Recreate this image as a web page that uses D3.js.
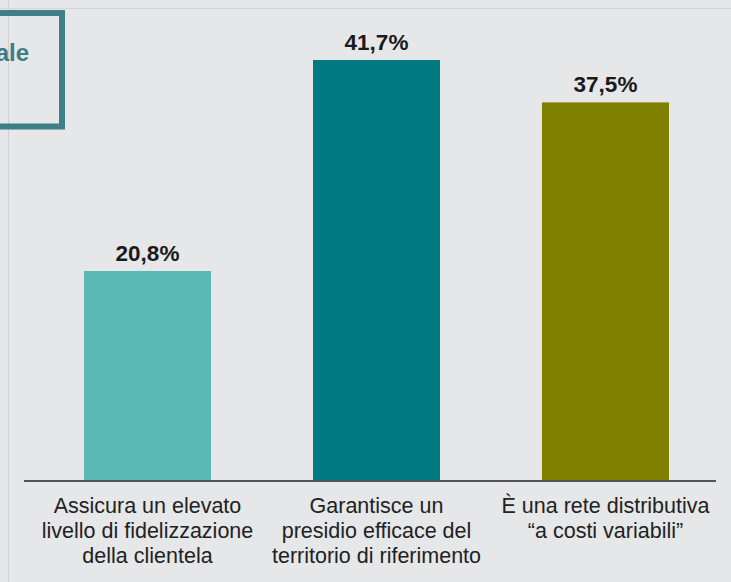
<!DOCTYPE html>
<html lang="it">
<head>
<meta charset="UTF-8">
<title>Rete distributiva</title>
<script src="https://d3js.org/d3.v7.min.js"></script>
<style>
  html, body { margin: 0; padding: 0; background: #e6e7e9; }
  svg { display: block; }
  text { font-family: "Liberation Sans", Arial, sans-serif; }
</style>
</head>
<body>
<div id="chart"></div>
<script>
// dati
const categories = ['fidelizzazione', 'presidio', 'costi'];
const values = [20.8, 41.7, 37.5];
const labelLines = [
  ['Assicura un elevato', 'livello di fidelizzazione', 'della clientela'],
  ['Garantisce un', 'presidio efficace del', 'territorio di riferimento'],
  ['È una rete distributiva', '“a costi variabili”']
];
const colors = ['#5ab8b5', '#007a80', '#808000'];

const W = 731, H = 582;
const baseY = 481;

const svg = d3.select('#chart').append('svg')
  .attr('width', W)
  .attr('height', H);

svg.append('rect').attr('width', W).attr('height', H).attr('fill', '#e6e7e9');

// linee guida della slide
svg.append('line')
  .attr('x1', 8.5).attr('x2', 8.5).attr('y1', 0).attr('y2', H)
  .attr('stroke', '#cdcfd2').attr('stroke-width', 1);
svg.append('line')
  .attr('x1', 0).attr('x2', W).attr('y1', 8.5).attr('y2', 8.5)
  .attr('stroke', '#d3d5d8').attr('stroke-width', 1);

// riquadro titolo (tagliato a sinistra)
svg.append('rect')
  .attr('x', -40).attr('y', 13)
  .attr('width', 102).attr('height', 113.5)
  .attr('fill', 'none')
  .attr('stroke', '#3f7f86')
  .attr('stroke-width', 6);
svg.append('text')
  .attr('x', 29).attr('y', 61)
  .attr('text-anchor', 'end')
  .attr('font-size', 24)
  .attr('font-weight', 'bold')
  .attr('fill', '#3d7c84')
  .text('ale');

const x = d3.scaleBand()
  .domain(categories)
  .range([33, 720])
  .paddingInner(0.4454)
  .paddingOuter(0.2227);

const y = d3.scaleLinear()
  .domain([0, 41.7])
  .range([baseY, 60]);

svg.selectAll('.bar')
  .data(values)
  .enter().append('rect')
  .attr('class', 'bar')
  .attr('x', (d, i) => x(categories[i]))
  .attr('y', d => y(d))
  .attr('width', x.bandwidth())
  .attr('height', d => baseY - y(d))
  .attr('fill', (d, i) => colors[i]);

const fmt = d => d3.format('.1f')(d).replace('.', ',') + '%';

svg.selectAll('.val')
  .data(values)
  .enter().append('text')
  .attr('class', 'val')
  .attr('x', (d, i) => x(categories[i]) + x.bandwidth() / 2)
  .attr('y', d => y(d) - 10)
  .attr('text-anchor', 'middle')
  .attr('font-size', 22.5)
  .attr('font-weight', 'bold')
  .attr('fill', '#1a1a1a')
  .text(fmt);

// asse orizzontale
svg.append('line')
  .attr('x1', 24).attr('x2', 716)
  .attr('y1', baseY).attr('y2', baseY)
  .attr('stroke', '#555')
  .attr('stroke-width', 2);

const cat = svg.selectAll('.cat')
  .data(labelLines)
  .enter().append('text')
  .attr('class', 'cat')
  .attr('text-anchor', 'middle')
  .attr('font-size', 21.5)
  .attr('fill', '#222');

cat.each(function (lines, i) {
  const cx = x(categories[i]) + x.bandwidth() / 2;
  d3.select(this).selectAll('tspan')
    .data(lines)
    .enter().append('tspan')
    .attr('x', cx)
    .attr('y', (l, j) => 513 + j * 25)
    .text(l => l);
});
</script>
</body>
</html>
